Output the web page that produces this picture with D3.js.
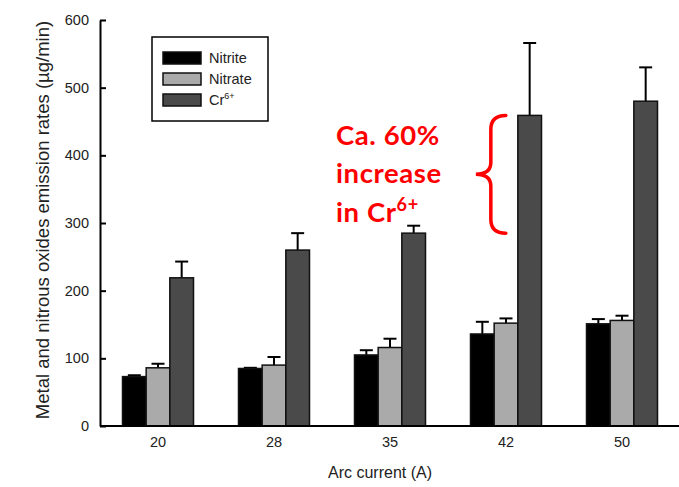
<!DOCTYPE html>
<html>
<head>
<meta charset="utf-8">
<script src="https://cdn.jsdelivr.net/npm/d3@7"></script>
<style>
  body { margin: 0; background: #fff; }
  svg { display: block; }
</style>
</head>
<body>
<div id="chart"></div>
<script>
'use strict';

// data
var categories = ['20', '28', '35', '42', '50'];
var seriesNames = ['Nitrite', 'Nitrate', 'Cr6+'];
var nitrite = [73, 85, 105, 136, 151];
var nitrate = [86, 90, 116, 152, 156];
var cr6 = [219, 260, 285, 459, 480];
var nitriteErr = [2, 1, 7, 18, 7];
var nitrateErr = [6, 12, 13, 7, 7];
var cr6Err = [24, 25, 11, 107, 50];
var yTicks = [0, 100, 200, 300, 400, 500, 600];

var W = 679, H = 487;
var fills = ['#000000', '#aaaaaa', '#4a4a4a'];

var svg = d3.select('#chart').append('svg')
    .attr('width', W)
    .attr('height', H);

var y = d3.scaleLinear().domain([0, 600]).range([426, 20]);
var x0 = d3.scaleBand().domain(categories).range([100, 680]).padding(0);
var groupW = 71;
var x1 = d3.scaleBand().domain(seriesNames).range([0, groupW]).padding(0);

var values = [nitrite, nitrate, cr6];
var errs = [nitriteErr, nitrateErr, cr6Err];

// flatten to one record per bar
var bars = [];
categories.forEach(function(c, i) {
  seriesNames.forEach(function(s, j) {
    bars.push({ cat: c, series: s, idx: j, value: values[j][i], err: errs[j][i] });
  });
});

function barX(d) {
  return x0(d.cat) + (x0.bandwidth() - groupW) / 2 + x1(d.series);
}

var g = svg.append('g');

// error bars (upper only), drawn first so bar outline sits over the stem
var eb = g.selectAll('g.err').data(bars).enter().append('g').attr('class', 'err');
eb.append('line')
    .attr('x1', function(d) { return barX(d) + x1.bandwidth() / 2; })
    .attr('x2', function(d) { return barX(d) + x1.bandwidth() / 2; })
    .attr('y1', function(d) { return y(d.value); })
    .attr('y2', function(d) { return y(d.value + d.err); })
    .attr('stroke', '#000').attr('stroke-width', 2);
eb.append('line')
    .attr('x1', function(d) { return barX(d) + x1.bandwidth() / 2 - 6.5; })
    .attr('x2', function(d) { return barX(d) + x1.bandwidth() / 2 + 6.5; })
    .attr('y1', function(d) { return y(d.value + d.err); })
    .attr('y2', function(d) { return y(d.value + d.err); })
    .attr('stroke', '#000').attr('stroke-width', 2);

g.selectAll('rect.bar').data(bars).enter().append('rect')
    .attr('class', 'bar')
    .attr('x', barX)
    .attr('y', function(d) { return y(d.value); })
    .attr('width', x1.bandwidth())
    .attr('height', function(d) { return y(0) - y(d.value); })
    .attr('fill', function(d) { return fills[d.idx]; })
    .attr('stroke', '#111')
    .attr('stroke-width', 1.5);

// y axis, ticks pointing inward
var yAxis = d3.axisLeft(y).tickValues(yTicks).tickSizeInner(-6).tickSizeOuter(0).tickPadding(11);
var ya = svg.append('g').attr('transform', 'translate(100,0)').call(yAxis);
ya.select('.domain').attr('stroke', '#000').attr('stroke-width', 2);
ya.selectAll('.tick line').attr('stroke', '#000').attr('stroke-width', 2);
ya.selectAll('.tick text')
    .attr('font-family', '"Liberation Sans", Arial, sans-serif')
    .attr('font-size', 14.5)
    .attr('fill', '#222');

// x axis, no tick marks
var xAxis = d3.axisBottom(x0).tickSize(0).tickPadding(11);
var xa = svg.append('g').attr('transform', 'translate(0,426)').call(xAxis);
xa.select('.domain').attr('stroke', '#000').attr('stroke-width', 2).attr('d', 'M100,0H679');
xa.selectAll('.tick text')
    .attr('font-family', '"Liberation Sans", Arial, sans-serif')
    .attr('font-size', 14.5)
    .attr('fill', '#222');

// axis titles
svg.append('text')
    .attr('x', 380).attr('y', 478)
    .attr('text-anchor', 'middle')
    .attr('font-family', '"Liberation Sans", Arial, sans-serif')
    .attr('font-size', 16)
    .attr('fill', '#222')
    .text('Arc current (A)');

svg.append('text')
    .attr('transform', 'translate(49,220) rotate(-90)')
    .attr('text-anchor', 'middle')
    .attr('font-family', '"Liberation Sans", Arial, sans-serif')
    .attr('font-size', 18.5)
    .attr('fill', '#222')
    .text('Metal and nitrous oxides emission rates (\u00b5g/min)');

// legend
var lg = svg.append('g').attr('transform', 'translate(152,37)');
lg.append('rect')
    .attr('width', 116).attr('height', 84)
    .attr('fill', '#fff').attr('stroke', '#000').attr('stroke-width', 1.5);
var items = lg.selectAll('g.item').data(seriesNames).enter().append('g')
    .attr('transform', function(d, i) { return 'translate(11,' + (15 + i * 21) + ')'; });
items.append('rect')
    .attr('width', 38).attr('height', 12)
    .attr('fill', function(d, i) { return fills[i]; })
    .attr('stroke', '#111').attr('stroke-width', 1.5);
var lt = items.append('text')
    .attr('x', 46).attr('y', 11)
    .attr('font-family', '"Liberation Sans", Arial, sans-serif')
    .attr('font-size', 14.5)
    .attr('fill', '#222');
lt.each(function(d) {
  var t = d3.select(this);
  if (d === 'Cr6+') {
    t.append('tspan').text('Cr');
    t.append('tspan').attr('dy', -6).attr('font-size', 9).text('6+');
  } else {
    t.text(d);
  }
});

// red annotation
var annFont = 'Lato, Calibri, "Open Sans", sans-serif';
var ann = svg.append('text')
    .attr('font-family', annFont)
    .attr('font-weight', 'bold')
    .attr('font-size', 27.5)
    .attr('letter-spacing', 0.6)
    .attr('fill', '#ff0000');
ann.append('tspan').attr('x', 336).attr('y', 145).text('Ca. 60%');
ann.append('tspan').attr('x', 336).attr('y', 183).text('increase');
ann.append('tspan').attr('x', 336).attr('y', 222).text('in Cr');
ann.append('tspan').attr('dy', -11).attr('font-size', 18).text('6+');

// brace spanning Cr6+ at 35 A up to Cr6+ at 42 A
var bTop = y(cr6[3]), bBot = y(cr6[2]);
var bMid = (bTop + bBot) / 2;
var bx = x0('42') + (x0.bandwidth() - groupW) / 2 + x1('Cr6+') - 12;
var bPath = d3.path();
bPath.moveTo(bx, bTop);
bPath.quadraticCurveTo(bx - 15, bTop, bx - 15, bTop + 14);
bPath.lineTo(bx - 15, bMid - 12);
bPath.quadraticCurveTo(bx - 15, bMid, bx - 30, bMid);
bPath.quadraticCurveTo(bx - 15, bMid, bx - 15, bMid + 12);
bPath.lineTo(bx - 15, bBot - 14);
bPath.quadraticCurveTo(bx - 15, bBot, bx, bBot);
svg.append('path')
    .attr('d', bPath.toString())
    .attr('fill', 'none')
    .attr('stroke', '#ff0000')
    .attr('stroke-width', 3.5)
    .attr('stroke-linecap', 'round');
</script>
</body>
</html>
